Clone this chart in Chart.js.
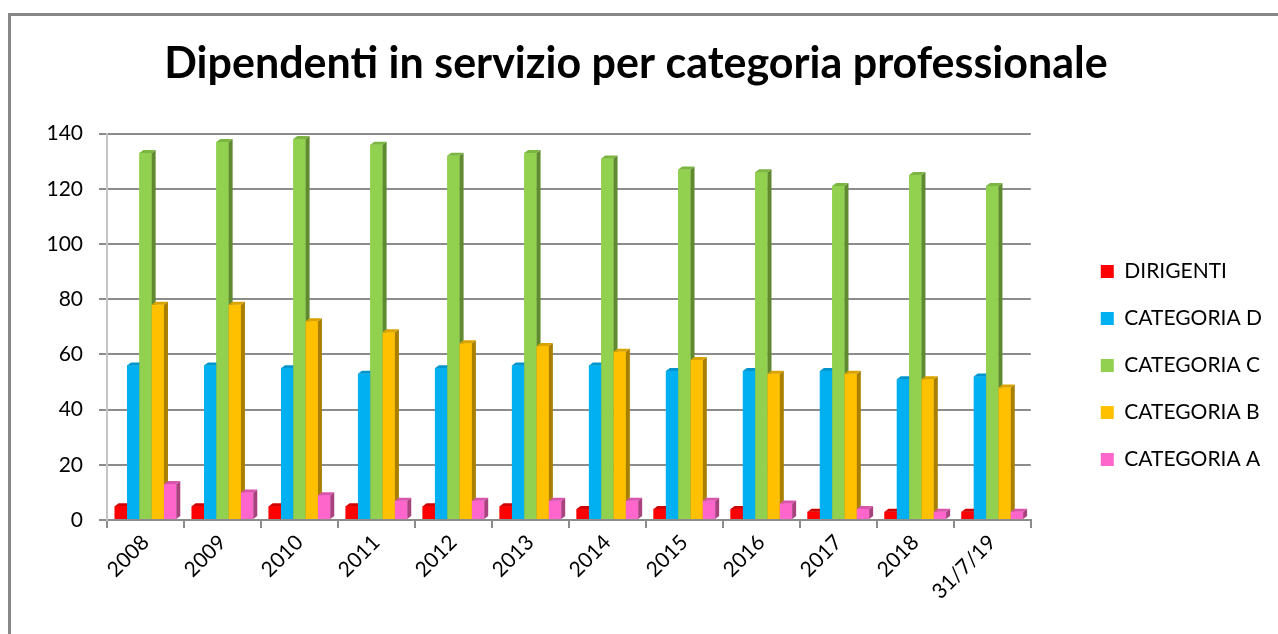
<!DOCTYPE html>
<html>
<head>
<meta charset="utf-8">
<script src="https://cdn.jsdelivr.net/npm/chart.js@4.4.1/dist/chart.umd.min.js"></script>
<style>
  html, body { margin: 0; padding: 0; background: #fff; }
  #frame { position: absolute; left: 8px; top: 13px; width: 1400px; height: 700px;
    border-left: 3px solid #878787; border-top: 3px solid #878787; }
  #wrap { position: absolute; left: 0; top: 0; width: 1278px; height: 634px; }
</style>
</head>
<body>
<div id="frame"></div>
<div id="wrap"><canvas id="myChart"></canvas></div>
<script>
const anni = ['2008', '2009', '2010', '2011', '2012', '2013', '2014', '2015', '2016', '2017', '2018', '31/7/19'];
const dirigenti = [5, 5, 5, 5, 5, 5, 4, 4, 4, 3, 3, 3];
const categoriaD = [56, 56, 55, 53, 55, 56, 56, 54, 54, 54, 51, 52];
const categoriaC = [133, 137, 138, 136, 132, 133, 131, 127, 126, 121, 125, 121];
const categoriaB = [78, 78, 72, 68, 64, 63, 61, 58, 53, 53, 51, 48];
const categoriaA = [13, 10, 9, 7, 7, 7, 7, 7, 6, 4, 3, 3];
const yTicks = [0, 20, 40, 60, 80, 100, 120, 140];

const fronts = ['#ff0000', '#00b0f0', '#92d050', '#ffc000', '#ff66cc'];
const sides = ['#a80000', '#0080b0', '#5f8a2f', '#a87f00', '#a8437f'];
const tops = ['#d00000', '#0095cc', '#7bb542', '#d9a300', '#d955ad'];

Chart.defaults.font.family = 'Lato';
Chart.defaults.color = '#000';

// faccia laterale e superiore per l'effetto 3D
const bar3d = {
  id: 'bar3d',
  afterDatasetsDraw(chart) {
    const ctx = chart.ctx;
    const dx = 4, dy = 3;
    ctx.save();
    chart.data.datasets.forEach((ds, i) => {
      const meta = chart.getDatasetMeta(i);
      meta.data.forEach(bar => {
        const x0 = bar.x - bar.width / 2;
        const x1 = bar.x + bar.width / 2;
        const top = bar.y, bottom = bar.base;
        ctx.fillStyle = fronts[i];
        ctx.fillRect(x0, top, x1 - x0, bottom - top);
        ctx.fillStyle = sides[i];
        ctx.beginPath();
        ctx.moveTo(x1, top);
        ctx.lineTo(x1 + dx, top - dy);
        ctx.lineTo(x1 + dx, bottom - dy);
        ctx.lineTo(x1, bottom);
        ctx.closePath();
        ctx.fill();
        ctx.fillStyle = tops[i];
        ctx.beginPath();
        ctx.moveTo(x0, top);
        ctx.lineTo(x0 + dx, top - dy);
        ctx.lineTo(x1 + dx, top - dy);
        ctx.lineTo(x1, top);
        ctx.closePath();
        ctx.fill();
      });
    });
    ctx.restore();
  }
};

const ctx = document.getElementById('myChart');
new Chart(ctx, {
  type: 'bar',
  data: {
    labels: anni,
    datasets: [
      { label: 'DIRIGENTI', data: dirigenti, backgroundColor: fronts[0] },
      { label: 'CATEGORIA D', data: categoriaD, backgroundColor: fronts[1] },
      { label: 'CATEGORIA C', data: categoriaC, backgroundColor: fronts[2] },
      { label: 'CATEGORIA B', data: categoriaB, backgroundColor: fronts[3] },
      { label: 'CATEGORIA A', data: categoriaA, backgroundColor: fronts[4] },
    ],
  },
  options: {
    responsive: true,
    maintainAspectRatio: false,
    animation: false,
    categoryPercentage: 0.8,
    barPercentage: 1.0,
    layout: { padding: { right: 6 } },
    plugins: {
      title: {
        display: true,
        text: 'Dipendenti in servizio per categoria professionale',
        font: { size: 43, weight: 'bold' },
        color: '#000',
        padding: { top: 38, bottom: 44 },
      },
      legend: {
        position: 'right',
        align: 'start',
        title: { display: true, text: '', font: { size: 10 }, padding: { top: 223, bottom: 0 } },
        labels: {
          boxWidth: 13,
          boxHeight: 13,
          padding: 26,
          font: { size: 21 },
          color: '#000',
        },
      },
      tooltip: { enabled: false },
    },
    scales: {
      x: {
        grid: { drawOnChartArea: false, drawTicks: true, tickLength: 8, color: '#8c8c8c', lineWidth: 2 },
        border: { display: true, color: '#8c8c8c', width: 2 },
        ticks: { autoSkip: false, minRotation: 45, maxRotation: 45, font: { size: 21 }, color: '#000', padding: 2 },
        afterFit(s) { s.height = 114; },
      },
      y: {
        min: 0,
        max: 140,
        afterBuildTicks(s) { s.ticks = yTicks.map(v => ({ value: v })); },
        grid: { color: '#8c8c8c', lineWidth: 2, tickLength: 8, tickColor: '#8c8c8c' },
        border: { display: true, color: '#c4c4c4', width: 2 },
        ticks: { font: { size: 21 }, color: '#000', padding: 16 },
        afterFit(s) { s.width = 107; },
      },
      y2: {
        position: 'right',
        grid: { display: false },
        border: { display: false },
        ticks: { display: false },
        afterFit(s) { s.width = 44; },
      },
    },
  },
  plugins: [bar3d],
});
</script>
</body>
</html>
